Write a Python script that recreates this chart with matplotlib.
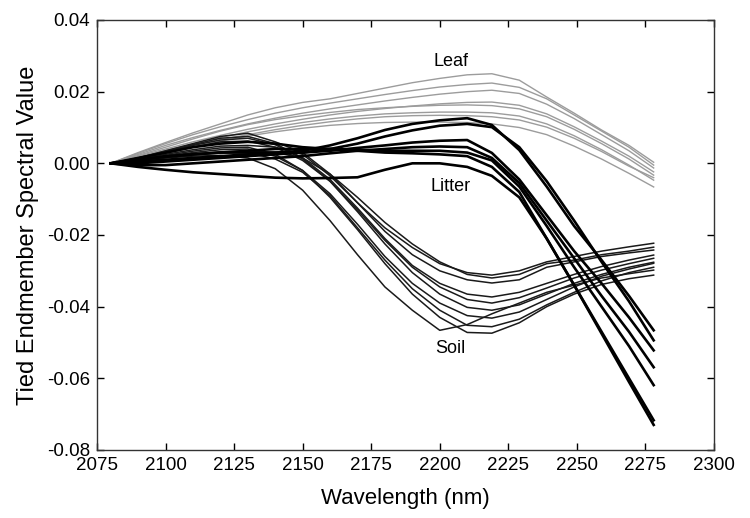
import matplotlib
matplotlib.use("Agg")
import matplotlib.pyplot as plt
from matplotlib.ticker import FormatStrFormatter

plt.rcParams['font.family'] = ['Liberation Sans', 'DejaVu Sans']

wavelength = [2080, 2090, 2100, 2110, 2120, 2130, 2140, 2150, 2160, 2170, 2180,
              2190, 2200, 2210, 2219, 2229, 2239, 2249, 2259, 2269, 2278]

leaf = [
    [0, .003, .0058, .0085, .011, .0135, .0155, .017, .018, .0195, .021, .0225, .0237, .0247, .025, .0232, .0185, .014, .0093, .005, .0003],
    [0, .0028, .0055, .008, .0102, .0122, .014, .0155, .0168, .018, .0192, .0203, .0213, .022, .0224, .0212, .018, .0135, .009, .0045, -.0005],
    [0, .0025, .005, .0072, .0092, .011, .0126, .014, .0152, .0163, .0174, .0184, .0193, .0200, .0204, .0195, .0165, .0125, .008, .0035, -.0013],
    [0, .002, .004, .006, .0078, .0095, .011, .0123, .0135, .0145, .0153, .016, .0166, .017, .0171, .0162, .0138, .0102, .0062, .002, -.0024],
    [0, .0022, .0045, .0068, .009, .0108, .0122, .0133, .0142, .015, .0155, .0159, .0162, .0163, .0161, .0152, .013, .0095, .0055, .0012, -.0033],
    [0, .0016, .0032, .005, .0066, .008, .0094, .0106, .0116, .0124, .013, .0133, .0134, .0133, .013, .0121, .0101, .007, .0033, -.0008, -.004],
    [0, .0018, .0036, .0054, .0072, .0088, .0102, .0114, .0124, .0132, .0138, .0141, .0143, .0143, .0141, .0132, .011, .0077, .0038, -.0005, -.0047],
    [0, .0015, .003, .0046, .0062, .0076, .0088, .0098, .0106, .0111, .0114, .0115, .0115, .0114, .011, .0100, .008, .0048, .0012, -.0028, -.0066],
]

litter = [
    [0, .0005, .001, .0015, .002, .0025, .003, .0035, .005, .007, .0093, .011, .012, .0126, .0107, .0037, -.0065, -.0175, -.027, -.037, -.0466],
    [0, .001, .002, .0025, .003, .003, .003, .003, .004, .0055, .0075, .0092, .0105, .011, .0101, .0045, -.005, -.016, -.0275, -.0385, -.0494],
    [0, 0, .0005, .001, .0015, .002, .0025, .003, .0035, .0043, .005, .0058, .0063, .0065, .0029, -.0045, -.0145, -.0245, -.0335, -.043, -.0522],
    [0, -.0005, -.0005, 0, .0005, .001, .0015, .002, .0028, .0035, .004, .0045, .0047, .0045, .0015, -.0055, -.016, -.0265, -.037, -.047, -.0569],
    [0, .001, .0018, .0025, .003, .0035, .004, .004, .004, .0038, .0035, .0035, .0035, .003, .0008, -.0065, -.0175, -.029, -.040, -.051, -.0619],
    [0, -.001, -.0018, -.0025, -.003, -.0035, -.004, -.0042, -.0041, -.0039, -.0018, 0, 0, -.001, -.0035, -.0095, -.021, -.034, -.047, -.06, -.0717],
    [0, .0015, .003, .0045, .0055, .006, .0055, .0045, .004, .0035, .003, .0028, .0025, .002, -.001, -.008, -.021, -.034, -.0475, -.061, -.073],
]

soil = [
    [0, .0012, .0025, .0038, .0048, .005, .0045, .0025, -.0035, -.011, -.018, -.0235, -.028, -.0305, -.0312, -.030, -.0275, -.026, -.0245, -.0233, -.0223],
    [0, .0008, .0017, .0025, .0032, .0035, .003, .0015, -.003, -.0095, -.0165, -.0225, -.0275, -.031, -.032, -.031, -.028, -.027, -.0255, -.0245, -.0234],
    [0, .0015, .0035, .0055, .0075, .0084, .006, .003, -.003, -.011, -.019, -.0255, -.030, -.0325, -.0334, -.0325, -.029, -.0275, -.026, -.025, -.0242],
    [0, .0015, .0033, .0052, .007, .0075, .0055, .0015, -.0045, -.0125, -.021, -.0285, -.0335, -.0365, -.0373, -.036, -.0335, -.031, -.0288, -.027, -.0256],
    [0, .0012, .0028, .0045, .006, .0062, .0045, .0008, -.005, -.013, -.0215, -.029, -.0345, -.038, -.039, -.0375, -.0348, -.032, -.0298, -.028, -.0265],
    [0, .0014, .003, .005, .0065, .007, .0052, .0012, -.005, -.0135, -.0225, -.0305, -.0365, -.0402, -.041, -.0395, -.0365, -.0335, -.031, -.029, -.0276],
    [0, .001, .002, .003, .0038, .004, .002, -.002, -.0085, -.017, -.026, -.0335, -.039, -.0425, -.0432, -.0415, -.038, -.0345, -.0315, -.0295, -.0279],
    [0, .0008, .0016, .0024, .003, .003, .0012, -.0025, -.009, -.018, -.027, -.035, -.041, -.0452, -.0456, -.0435, -.0395, -.036, -.0328, -.0305, -.029],
    [0, .0008, .0015, .002, .0022, .0015, -.0015, -.0075, -.016, -.0255, -.0345, -.041, -.0466, -.045, -.042, -.039, -.036, -.034, -.032, -.0308, -.0298],
    [0, .001, .0022, .0034, .0043, .0045, .0025, -.002, -.0095, -.0185, -.028, -.0365, -.043, -.0472, -.0474, -.0445, -.04, -.0365, -.0338, -.0322, -.0312],
]

group_labels = ["Leaf", "Litter", "Soil"]
label_pos = [(2204, 0.0285), (2204, -0.0066), (2204, -0.0518)]

x_ticks = [2075, 2100, 2125, 2150, 2175, 2200, 2225, 2250, 2275, 2300]
y_ticks = [-0.08, -0.06, -0.04, -0.02, 0.00, 0.02, 0.04]

fig = plt.figure(figsize=(7.5, 5.18), dpi=100)
ax = fig.add_axes([0.1293, 0.1313, 0.8227, 0.8301])

for s in leaf:
    ax.plot(wavelength, s, color='#9c9c9c', lw=1.0)
for s in soil:
    ax.plot(wavelength, s, color='#1a1a1a', lw=1.1)
for s in litter:
    ax.plot(wavelength, s, color='#000000', lw=1.9)

for txt, (lx, ly) in zip(group_labels, label_pos):
    ax.text(lx, ly, txt, ha='center', va='center', fontsize=13)

ax.set_xlim(2075, 2300)
ax.set_ylim(-0.08, 0.04)
ax.set_xticks(x_ticks)
ax.set_yticks(y_ticks)
ax.yaxis.set_major_formatter(FormatStrFormatter('%.2f'))
ax.tick_params(direction='in', top=True, right=True, length=5, width=1, labelsize=13.5, pad=5)
for sp in ax.spines.values():
    sp.set_linewidth(1.0)
    sp.set_color('#333333')

ax.set_xlabel("Wavelength (nm)", fontsize=16, labelpad=10)
ax.set_ylabel("Tied Endmember Spectral Value", fontsize=17, labelpad=6)

fig.savefig("out.png", dpi=100)
